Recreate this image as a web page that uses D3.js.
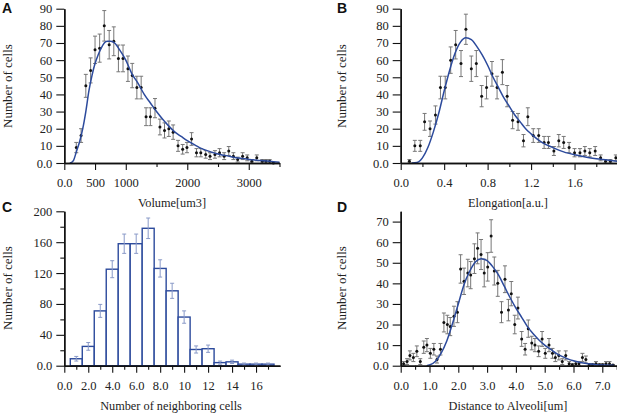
<!DOCTYPE html>
<html>
<head>
<meta charset="utf-8">
<script src="https://cdn.jsdelivr.net/npm/d3@7"></script>
<style>
  html, body { margin: 0; padding: 0; background: #fff; }
  svg { display: block; }
  text { font-family: "Liberation Serif", serif; fill: #222; }
  .panel { font-family: "Liberation Sans", sans-serif; font-weight: bold; font-size: 14px; fill: #111; }
</style>
</head>
<body>
<div id="chart"></div>
<script>
// panel A - volume
var volX = [195,273,350,428,500,575,650,730,805,880,955,1035,1105,1180,1250,1330,1400,1475,1555,1630,1700,1770,1850,1925,1995,2070,2150,2220,2300,2370,2450,2525,2600,2675,2750,2820,2900,2975,3050,3130,3220,3280,3340,3400];
var volY = [9,16,45,54,66,67,80,69,71,61,61,55,51,44,44,27,27,32,21,19,20,18,10,8,9,14,6,6,5,4,5,6,4,7,4,2,4,3,1,3,1,1,1,0];
var volErr = [3,4,6.7,7.3,8,8.2,8.9,8.3,8.4,7.8,7.8,7.4,7.1,6.6,6.6,5.2,5.2,5.6,4.6,4.4,4.5,4.2,3.2,2.8,3,3.7,2.4,2.4,2.2,2,2.2,2.4,2,2.6,2,1.4,2,1.7,1,1.7,1,1,1,0];
var volFitX = [90,120,150,175,200,250,300,350,400,450,500,550,600,650,700,750,800,900,1000,1100,1200,1300,1400,1500,1600,1700,1800,1900,2000,2100,2200,2300,2400,2500,2600,2700,2800,2900,3000,3100,3200,3300,3400,3500];
var volFitY = [0,0.4,1.5,4,7,12.5,20,30,42,51,58,63,67,70,71,71,70.5,66,60,52,46.5,40,35,30,25.5,21.5,18,15.5,13,11,9,7.5,6.3,5.2,4.5,3.8,3.1,2.6,2.1,1.7,1.4,1.1,0.8,0.5];

// panel B - elongation
var eloX = [0.08,0.13,0.18,0.22,0.27,0.32,0.366,0.41,0.46,0.506,0.555,0.60,0.65,0.696,0.745,0.79,0.84,0.887,0.936,0.98,1.03,1.08,1.13,1.17,1.22,1.27,1.32,1.36,1.41,1.455,1.50,1.55,1.60,1.65,1.695,1.74,1.79,1.84,1.885,1.93,1.98];
var eloY = [1,10,10,24,20,28,44,44,60,69,58,78,55,58,39,44,52,44,53,39,25,24,13,27,16,16,12,12,7,13,12,9,6,6,7,6,7,3,1,1,3];
var eloErr = [1,3.2,3.2,4.9,4.5,5.3,6.6,6.6,7.7,8.3,7.6,8.8,7.4,7.6,6.2,6.6,7.2,6.6,7.3,6.2,5,4.9,3.6,5.2,4,4,3.5,3.5,2.6,3.6,3.5,3,2.4,2.4,2.6,2.4,2.6,1.7,1,1,1.7];
var eloFitX = [0.1,0.15,0.18,0.2,0.25,0.3,0.35,0.4,0.45,0.5,0.55,0.6,0.65,0.7,0.75,0.8,0.85,0.9,0.95,1,1.05,1.1,1.15,1.2,1.3,1.4,1.5,1.6,1.7,1.8,1.9,2];
var eloFitY = [0,0.3,1.5,3,9,18,29,42,54,64,70.5,73,72,68,63,57,50,44,38,33,28,24,20,17,12,9,6.5,4.8,3.5,2.5,1.8,1];

// panel C - neighbours
var nbrBins = [1,2,3,4,5,6,7,8,9,10,11,12,13,14,15,16,17];
var nbrCounts = [9,25,71,125,158,158,178,126,97,63,21,22,4,5,2,2,2];
var nbrErr = [3,5,8.4,11,12.5,12.5,13.3,11.2,9.8,8,4.6,4.7,2,2.2,1.4,1.4,1.4];

// panel D - distance
var disX = [0.1,0.22,0.32,0.44,0.56,0.68,0.8,0.91,1.03,1.15,1.26,1.38,1.5,1.62,1.72,1.85,1.97,2.08,2.2,2.33,2.43,2.56,2.67,2.79,2.9,3.02,3.14,3.25,3.37,3.5,3.62,3.74,3.84,3.96,4.07,4.2,4.32,4.43,4.55,4.66,4.79,4.91,5.02,5.15,5.27,5.37,5.49,5.61,5.73,5.85,5.96,6.08,6.19,6.31,6.43,6.55,6.66,6.78,6.9,7.01,7.13,7.25,7.37];
var disY = [1,2,5,4,7,2,9,10,6,8,3,8,21,20,19,24,26,47,41,45,44,52,57,54,45,48,63,46,40,26,42,27,35,20,28,13,8,18,11,10,7,13,6,10,6,4,5,2,5,1,0.5,1,1,4,3,0.5,0.5,1,0.5,0.5,1,1,0.3];
var disErr = [1,1.4,2.2,2,2.6,1.4,3,3.2,2.4,2.8,1.7,2.8,4.6,4.5,4.4,4.9,5.1,6.9,6.4,6.7,6.6,7.2,7.5,7.3,6.7,6.9,7.9,6.8,6.3,5.1,6.5,5.2,5.9,4.5,5.3,3.6,2.8,4.2,3.3,3.2,2.6,3.6,2.4,3.2,2.4,2,2.2,1.4,2.2,1,0.5,1,1,2,1.7,0.5,0.5,1,0.5,0.5,1,1,0.3];
var disFitX = [0.9,1,1.2,1.4,1.6,1.8,2,2.2,2.4,2.6,2.8,3,3.2,3.4,3.6,3.8,4,4.2,4.4,4.6,4.8,5,5.2,5.4,5.6,5.8,6,6.2,6.4,6.6,6.8,7,7.4];
var disFitY = [0,0.3,2,6,12,20.5,30,39.5,46,50.5,52,51,48,44,38.5,33,28,23.5,19,15.5,12.5,10,8,6,4.5,3.3,2.4,1.7,1.2,0.8,0.5,0.3,0.2];

var blue = "#2c4a9c", tickFont = 12.5;

var svg = d3.select("#chart").append("svg").attr("width", 617).attr("height", 413);

var drawAxes = function(g, o) {
    var xAxis = d3.axisBottom(o.x).tickValues(o.xMajor).tickSize(7).tickSizeOuter(0).tickPadding(3).tickFormat(function(d, i) { return o.xLabels[i]; });
    var xMinor = d3.axisBottom(o.x).tickValues(o.xMinor).tickSize(4).tickSizeOuter(0).tickFormat("");
    var yAxis = d3.axisLeft(o.y).tickValues(o.yMajor).tickSize(8).tickSizeOuter(0).tickPadding(4).tickFormat(function(d, i) { return o.yLabels[i]; });
    var yMinor = d3.axisLeft(o.y).tickValues(o.yMinor).tickSize(4).tickSizeOuter(0).tickFormat("");
    [[xAxis, o.bottom, true], [xMinor, o.bottom, true], [yAxis, 0, false], [yMinor, 0, false]].forEach(function(a) {
        var ag = g.append("g").call(a[0]);
        if (a[2]) ag.attr("transform", "translate(0," + o.bottom + ")");
        else ag.attr("transform", "translate(" + o.left + ",0)");
        ag.selectAll("path").attr("stroke", "#111").attr("stroke-width", 1.4);
        ag.selectAll("line").attr("stroke", "#111").attr("stroke-width", 1.1);
        ag.selectAll("text").style("font-size", tickFont + "px").style("font-family", "Liberation Serif");
        if (a[2]) ag.selectAll("text").attr("dy", "1.14em");
    });
    g.append("text").attr("x", o.xTitleX).attr("y", o.xTitleY).attr("text-anchor", "middle")
        .style("font-size", "12.3px").text(o.xTitle);
    g.append("text").attr("transform", "translate(" + o.yTitleX + "," + o.yTitleY + ") rotate(-90)")
        .attr("text-anchor", "middle").style("font-size", "13px").text("Number of cells");
    g.append("text").attr("class", "panel").attr("x", o.tagX).attr("y", o.tagY).text(o.tag);
};

var drawPoints = function(g, x, y, xs, ys, errs) {
    var rows = d3.range(xs.length);
    var bars = g.append("g").attr("stroke", "#777").attr("stroke-width", 1).attr("fill", "none");
    bars.selectAll("path").data(rows).join("path").attr("d", function(i) {
        var px = x(xs[i]), hi = y(ys[i] + errs[i]), lo = y(Math.max(0, ys[i] - errs[i]));
        return "M" + (px - 2) + "," + hi + "H" + (px + 2) + "M" + px + "," + hi + "V" + lo + "M" + (px - 2) + "," + lo + "H" + (px + 2);
    });
    g.append("g").selectAll("circle").data(rows).join("circle")
        .attr("cx", function(i) { return x(xs[i]); })
        .attr("cy", function(i) { return y(ys[i]); })
        .attr("r", 1.5).attr("fill", "#111");
};

var drawFit = function(g, x, y, xs, ys) {
    var line = d3.line().x(function(d) { return x(d[0]); }).y(function(d) { return y(d[1]); }).curve(d3.curveMonotoneX);
    g.append("path").attr("d", line(d3.zip(xs, ys))).attr("fill", "none").attr("stroke", blue).attr("stroke-width", 1.5);
};

// A
var xA = d3.scaleLinear().domain([0, 3500]).range([64.3, 279.5]);
var yA = d3.scaleLinear().domain([0, 90]).range([163, 8.7]);
var gA = svg.append("g");
drawPoints(gA, xA, yA, volX, volY, volErr);
drawFit(gA, xA, yA, volFitX, volFitY);
drawAxes(gA, { x: xA, y: yA, left: 64.3, bottom: 163,
    xMajor: [0,500,1000,2000,3000], xLabels: ["0.0","500","1000","2000","3000"], xMinor: [1500,2500,3500],
    yMajor: [0,10,20,30,40,50,60,70,80,90], yLabels: ["0.0","10","20","30","40","50","60","70","80","90"], yMinor: [],
    xTitle: "Volume[um3]", xTitleX: 172, xTitleY: 207, yTitleX: 12, yTitleY: 86, tag: "A", tagX: 2, tagY: 13 });

// B
var xB = d3.scaleLinear().domain([0, 2]).range([400.7, 618]);
var gB = svg.append("g");
drawPoints(gB, xB, yA, eloX, eloY, eloErr);
drawFit(gB, xB, yA, eloFitX, eloFitY);
drawAxes(gB, { x: xB, y: yA, left: 400.7, bottom: 163,
    xMajor: [0,0.4,0.8,1.2,1.6], xLabels: ["0.0","0.4","0.8","1.2","1.6"], xMinor: [0.2,0.6,1,1.4,1.8],
    yMajor: [0,10,20,30,40,50,60,70,80,90], yLabels: ["0.0","10","20","30","40","50","60","70","80","90"], yMinor: [],
    xTitle: "Elongation[a.u.]", xTitleX: 508, xTitleY: 207, yTitleX: 346, yTitleY: 86, tag: "B", tagX: 337, tagY: 13 });

// C
var xC = d3.scaleLinear().domain([0, 18]).range([64.3, 280]);
var yC = d3.scaleLinear().domain([0, 200]).range([365.7, 211.3]);
var gC = svg.append("g");
gC.selectAll("rect").data(nbrBins).join("rect")
    .attr("x", function(d) { return xC(d - 0.5); })
    .attr("y", function(d, i) { return yC(nbrCounts[i]); })
    .attr("width", xC(1) - xC(0))
    .attr("height", function(d, i) { return yC(0) - yC(nbrCounts[i]); })
    .attr("fill", "#fff").attr("stroke", blue).attr("stroke-width", 1.4);
gC.append("g").attr("stroke", "#8a9ac8").attr("stroke-width", 1).attr("fill", "none")
    .selectAll("path").data(nbrBins).join("path").attr("d", function(d, i) {
        var px = xC(d), hi = yC(nbrCounts[i] + nbrErr[i]), lo = yC(Math.max(0, nbrCounts[i] - nbrErr[i]));
        return "M" + (px - 2) + "," + hi + "H" + (px + 2) + "M" + px + "," + hi + "V" + lo + "M" + (px - 2) + "," + lo + "H" + (px + 2);
    });
drawAxes(gC, { x: xC, y: yC, left: 64.3, bottom: 365.7,
    xMajor: [0,2,4,6,8,10,12,14,16], xLabels: ["0.0","2.0","4.0","6.0","8.0","10","12","14","16"], xMinor: [1,3,5,7,9,11,13,15,17],
    yMajor: [0,40,80,120,160,200], yLabels: ["0.0","40","80","120","160","200"], yMinor: [20,60,100,140,180],
    xTitle: "Number of neighboring cells", xTitleX: 171, xTitleY: 410, yTitleX: 12, yTitleY: 288, tag: "C", tagX: 2, tagY: 212 });

// D
var xD = d3.scaleLinear().domain([0, 7.5]).range([400.7, 616.7]);
var yD = d3.scaleLinear().domain([0, 75]).range([365.7, 211.3]);
var gD = svg.append("g");
drawPoints(gD, xD, yD, disX, disY, disErr);
drawFit(gD, xD, yD, disFitX, disFitY);
drawAxes(gD, { x: xD, y: yD, left: 400.7, bottom: 365.7,
    xMajor: [0,1,2,3,4,5,6,7], xLabels: ["0.0","1.0","2.0","3.0","4.0","5.0","6.0","7.0"], xMinor: [0.5,1.5,2.5,3.5,4.5,5.5,6.5,7.5],
    yMajor: [0,10,20,30,40,50,60,70], yLabels: ["0.0","10","20","30","40","50","60","70"], yMinor: [],
    xTitle: "Distance to Alveoli[um]", xTitleX: 508, xTitleY: 410, yTitleX: 346, yTitleY: 288, tag: "D", tagX: 337, tagY: 212 });
</script>
</body>
</html>
